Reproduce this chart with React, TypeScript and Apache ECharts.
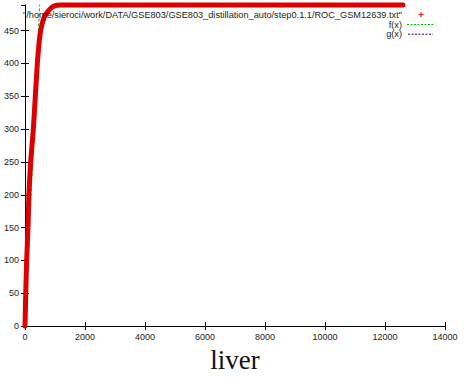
import React, { useEffect, useRef } from "react";
import * as echarts from "echarts";

const rocX = [0, 25, 56, 100, 130, 189, 278, 344, 411, 467, 522, 600, 667, 833, 1000, 1200, 12600];
const rocY = [0, 50, 100, 150, 200, 250, 300, 350, 400, 430, 450, 465, 473, 483, 488, 489, 489];
const fX = [0, 540];
const fY = [0, 540];
const xTicks = [0, 2000, 4000, 6000, 8000, 10000, 12000, 14000];
const yTicks = [0, 50, 100, 150, 200, 250, 300, 350, 400, 450];
const legendLabels = [
  '"/home/sieroci/work/DATA/GSE803/GSE803_distillation_auto/step0.1.1/ROC_GSM12639.txt"',
  "f(x)",
  "g(x)",
];
const xTitle = "liver";

export default function App() {
  const ref = useRef<HTMLDivElement>(null);
  useEffect(() => {
    if (!ref.current) return;
    const chart = echarts.init(ref.current, null, { renderer: "svg" });
    const font = "'Liberation Sans', Arial, sans-serif";
    const labelStyle = { color: "#222", fontFamily: font, fontSize: 9, formatter: (v: number) => String(v) };
    const axisLine = { show: true, lineStyle: { color: "#000", width: 1 } };
    const tick = { show: true, inside: true, length: 4, lineStyle: { color: "#000", width: 1 } };
    const rowY = [14.7, 24.5, 34.2];
    chart.setOption({
      animation: false,
      backgroundColor: "#fff",
      grid: { left: 25, top: 5, width: 420, height: 326, show: false },
      xAxis: [
        {
          type: "value",
          min: xTicks[0],
          max: xTicks[xTicks.length - 1],
          interval: 2000,
          position: "bottom",
          axisLine,
          axisTick: tick,
          splitLine: { show: false },
          axisLabel: { ...labelStyle, margin: 6 },
          name: xTitle,
          nameLocation: "middle",
          nameGap: 11,
          nameTextStyle: { fontFamily: "'Liberation Serif', 'Times New Roman', serif", fontSize: 27, color: "#111" },
        },
        {
          type: "value",
          min: xTicks[0],
          max: xTicks[xTicks.length - 1],
          interval: 2000,
          position: "top",
          axisLine,
          axisTick: tick,
          splitLine: { show: false },
          axisLabel: { show: false },
        },
      ],
      yAxis: [
        {
          type: "value",
          min: yTicks[0],
          max: 489,
          interval: 50,
          position: "left",
          axisLine,
          axisTick: tick,
          splitLine: { show: false },
          axisLabel: { ...labelStyle, margin: 6, showMaxLabel: false },
        },
        {
          type: "value",
          min: yTicks[0],
          max: 489,
          interval: 50,
          position: "right",
          axisLine,
          axisTick: tick,
          splitLine: { show: false },
          axisLabel: { show: false },
        },
      ],
      series: [
        {
          type: "line",
          data: fX.map((x, i) => [x, fY[i]]),
          symbol: "none",
          lineStyle: { color: "#00c000", width: 1, type: [3, 2] },
          clip: true,
          z: 1,
        },
        {
          type: "line",
          data: rocX.map((x, i) => [x, rocY[i]]),
          symbol: "none",
          smooth: 0.2,
          lineStyle: { color: "#dd0000", width: 5, cap: "round", join: "round" },
          clip: false,
          z: 2,
        },
      ],
      graphic: [
        ...legendLabels.map((t, i) => ({
          type: "text",
          x: 402,
          y: rowY[i],
          z: 10,
          style: {
            text: t,
            align: "right",
            verticalAlign: "middle",
            fontFamily: font,
            fontSize: 9.2,
            fill: "#222",
          },
        })),
        { type: "line", z: 10, shape: { x1: 418.5, y1: rowY[0], x2: 423.5, y2: rowY[0] }, style: { stroke: "#dd0000", lineWidth: 1 } },
        { type: "line", z: 10, shape: { x1: 421, y1: rowY[0] - 2.5, x2: 421, y2: rowY[0] + 2.5 }, style: { stroke: "#dd0000", lineWidth: 1 } },
        { type: "line", z: 10, shape: { x1: 407, y1: rowY[1], x2: 435, y2: rowY[1] }, style: { stroke: "#00c000", lineWidth: 1, lineDash: [2, 1.5] } },
        { type: "line", z: 10, shape: { x1: 408, y1: rowY[2], x2: 433, y2: rowY[2] }, style: { stroke: "#0000a0", lineWidth: 1, lineDash: [2, 1.5] } },
      ],
    });
    return () => chart.dispose();
  }, []);
  return (
    <div
      ref={ref}
      style={{ position: "fixed", left: 0, top: 0, width: 465, height: 378, background: "#fff" }}
    />
  );
}
